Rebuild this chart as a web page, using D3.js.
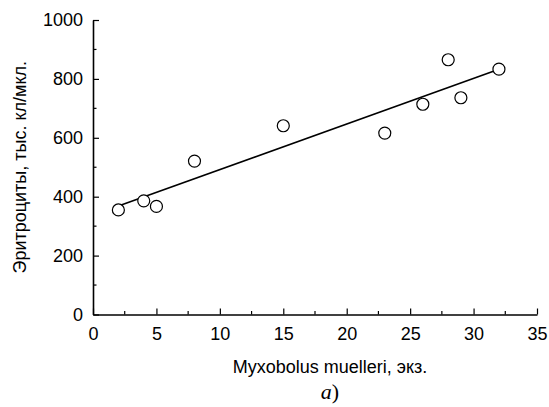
<!DOCTYPE html>
<html><head><meta charset="utf-8">
<script src="https://cdn.jsdelivr.net/npm/d3@7/dist/d3.min.js"></script>
<style>
html,body{margin:0;padding:0;background:#fff;}
svg{display:block;font-family:"Liberation Sans",Arial,sans-serif;}
</style></head>
<body>
<script>
const parasites = [2, 4, 5, 8, 15, 23, 26, 28, 29, 32];
const erythrocytes = [355, 386, 367, 521, 641, 616, 714, 865, 736, 833];
const xMajorTicks = [0, 5, 10, 15, 20, 25, 30, 35];
const xMinorTicks = [2.5, 7.5, 12.5, 17.5, 22.5, 27.5, 32.5];
const yMajorTicks = [0, 200, 400, 600, 800, 1000];
const yMinorTicks = [100, 300, 500, 700, 900];
const xTitle = "Myxobolus muelleri, экз.";
const yTitle = "Эритроциты, тыс. кл/мкл.";

const W = 549, H = 407;
const svg = d3.select("body").append("svg").attr("width", W).attr("height", H);

const x = d3.scaleLinear().domain([0, 35]).range([93, 537]);
const y = d3.scaleLinear().domain([0, 1000]).range([314.5, 20]);
const fs = 18;

// axes with inward ticks
const xAxis = d3.axisBottom(x).tickValues(xMajorTicks).tickFormat(d3.format("d"))
  .tickSize(-6).tickPadding(13).tickSizeOuter(0);
const gx = svg.append("g").attr("transform", `translate(0,${y(0)})`).call(xAxis);
gx.append("g").selectAll("line").data(xMinorTicks).join("line")
  .attr("x1", d => x(d)).attr("x2", d => x(d)).attr("y1", 0).attr("y2", -3.5)
  .attr("stroke", "#000").attr("stroke-width", 1.2);

const yAxis = d3.axisLeft(y).tickValues(yMajorTicks).tickFormat(d3.format("d"))
  .tickSize(-6).tickPadding(10).tickSizeOuter(0);
const gy = svg.append("g").attr("transform", `translate(${x(0)},0)`).call(yAxis);
gy.append("g").selectAll("line").data(yMinorTicks).join("line")
  .attr("y1", d => y(d)).attr("y2", d => y(d)).attr("x1", 0).attr("x2", 3.5)
  .attr("stroke", "#000").attr("stroke-width", 1.2);

[gx, gy].forEach(g => {
  g.select(".domain").attr("stroke", "#000").attr("stroke-width", 1.6);
  g.selectAll(".tick line").attr("stroke", "#000").attr("stroke-width", 1.2);
  g.selectAll(".tick text").attr("font-size", fs).attr("fill", "#000")
    .attr("font-family", "'Liberation Sans', Arial, sans-serif");
});
gx.selectAll(".tick text").attr("dy", "0.71em");

// regression line (least squares)
const mx = d3.mean(parasites), my = d3.mean(erythrocytes);
let sxy = 0, sxx = 0;
parasites.forEach((v, i) => { sxy += (v - mx) * (erythrocytes[i] - my); sxx += (v - mx) ** 2; });
const slope = sxy / sxx, icpt = my - slope * mx;
const x0 = d3.min(parasites), x1 = d3.max(parasites);
svg.append("line")
  .attr("x1", x(x0)).attr("y1", y(icpt + slope * x0))
  .attr("x2", x(x1)).attr("y2", y(icpt + slope * x1))
  .attr("stroke", "#000").attr("stroke-width", 1.6);

// points
svg.append("g").selectAll("circle").data(parasites).join("circle")
  .attr("cx", d => x(d)).attr("cy", (d, i) => y(erythrocytes[i]))
  .attr("r", 6).attr("fill", "#fff").attr("stroke", "#000").attr("stroke-width", 1.2);

// titles
svg.append("text").attr("x", 330).attr("y", 373)
  .attr("text-anchor", "middle").attr("font-size", fs).text(xTitle);
svg.append("text").attr("transform", `translate(26,${(y(0) + y(1000)) / 2}) rotate(-90)`)
  .attr("text-anchor", "middle").attr("font-size", fs).text(yTitle);

const lab = svg.append("text").attr("x", 330).attr("y", 399).attr("text-anchor", "middle")
  .attr("font-family", "'Liberation Serif', 'Times New Roman', serif").attr("font-size", 22);
lab.append("tspan").attr("font-style", "italic").text("a");
lab.append("tspan").text(")");
</script>
</body></html>
